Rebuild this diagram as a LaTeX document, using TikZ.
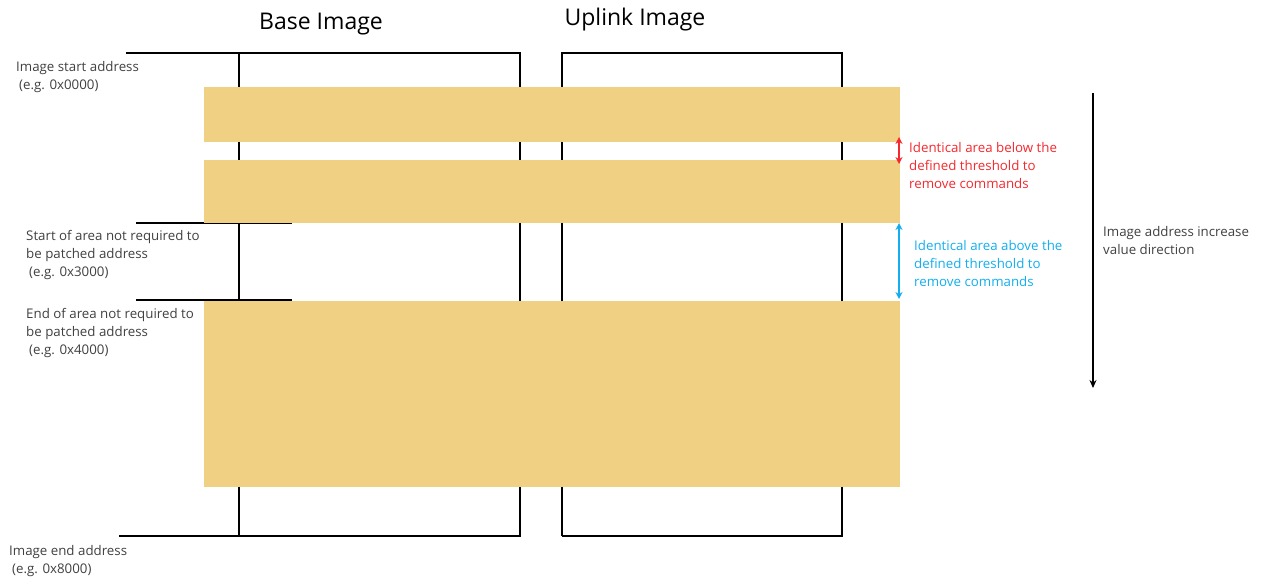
\documentclass[tikz,border=0pt]{standalone}
\usepackage{fontspec}
\setmainfont{Open Sans}
\usetikzlibrary{arrows.meta}

\definecolor{bandyellow}{HTML}{F0D082}
\definecolor{notered}{HTML}{F5282D}
\definecolor{noteblue}{HTML}{12AEEF}
\definecolor{labelgray}{HTML}{404040}

\tikzset{
	frame/.style={draw=black, line width=2pt},
	band/.style={fill=bandyellow, draw=none},
	addr/.style={anchor=north west, inner sep=0pt, align=left, text=labelgray, font=\fontsize{13.3}{18}\selectfont},
	title/.style={anchor=base, inner sep=0pt, font=\fontsize{23}{28}\selectfont},
	span/.style={line width=2pt, {Stealth[length=7pt,width=7pt]}-{Stealth[length=7pt,width=7pt]}}
}
\newcommand{\eg}{\hspace{3pt}}

\begin{document}
\begin{tikzpicture}[x=1pt,y=-1pt]
	\path[use as bounding box] (0,0) rectangle (1267,579);

	% Titles
	\node[title] (basetitle) at (321,29) {Base Image};
	\node[title] (uptitle) at (635,25) {Uplink Image};

	% Image frames, start and end address lines
	\draw[frame] (126,53) -- (520,53) -- (520,536) -- (119,536);
	\draw[frame] (239,53) -- (239,536);
	\draw[frame] (562,536) -- (562,53) -- (842,53) -- (842,536) -- (562,536);
	\draw[frame] (136,223) -- (292,223);
	\draw[frame] (136,300) -- (292,300);

	% Changed areas
	\fill[band] (204,87) rectangle (900,142);
	\fill[band] (204,160) rectangle (900,223);
	\fill[band] (204,301) rectangle (900,487);

	% Address labels
	\node[addr] (startaddr) at (16,61) {Image start address\\\eg(e.g. 0x0000)};
	\node[addr] (gapstart) at (26,230) {Start of area not required to\\be patched address\\\eg(e.g. 0x3000)};
	\node[addr] (gapend) at (26,308) {End of area not required to\\be patched address\\\eg(e.g. 0x4000)};
	\node[addr] (endaddr) at (9,545) {Image end address\\\eg(e.g. 0x8000)};

	% Threshold notes
	\coordinate (redtop) at (899,137);
	\coordinate (redbot) at (899,164);
	\draw[span, notered] (redtop) -- (redbot);
	\node[addr, text=notered] (belownote) at (909,142) {Identical area below the\\defined threshold to\\remove commands};

	\coordinate (bluetop) at (899,223);
	\coordinate (bluebot) at (899,299);
	\draw[span, noteblue] (bluetop) -- (bluebot);
	\node[addr, text=noteblue] (abovenote) at (914,240) {Identical area above the\\defined threshold to\\remove commands};

	% Direction of increasing addresses
	\coordinate (dirtop) at (1093,93);
	\coordinate (dirbot) at (1093,388);
	\draw[line width=2pt, -{Stealth[length=8pt,width=7pt]}] (dirtop) -- (dirbot);
	\node[addr] (dirnote) at (1103,226) {Image address increase\\value direction};
\end{tikzpicture}
\end{document}
